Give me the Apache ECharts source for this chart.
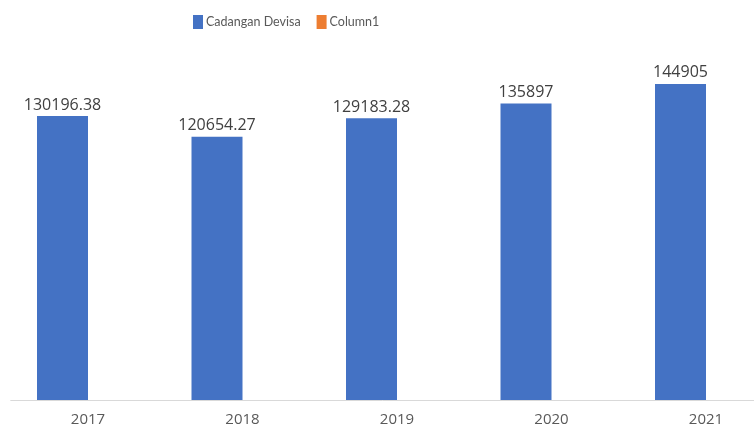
<!DOCTYPE html>
<html>
<head>
<meta charset="utf-8">
<script src="https://cdn.jsdelivr.net/npm/echarts@6/dist/echarts.min.js"></script>
<style>html,body{margin:0;padding:0;background:#fff}#c{width:754px;height:428px}</style>
</head>
<body>
<div id="c"></div>
<script>
const categories = ['2017', '2018', '2019', '2020', '2021'];
const cadanganDevisa = [130196.38, 120654.27, 129183.28, 135897, 144905];
const column1 = [null, null, null, null, null];
const labelTexts = ['130196.38', '120654.27', '129183.28', '135897', '144905'];

const chart = echarts.init(document.getElementById('c'));
const font = '"Open Sans", "Noto Sans", sans-serif';
chart.setOption({
  animation: false,
  textStyle: { fontFamily: font },
  legend: {
    top: 10,
    left: 188,
    itemWidth: 10,
    itemHeight: 14,
    itemGap: 16,
    textStyle: { fontSize: 12.5, color: '#595959', fontFamily: 'Lato, sans-serif', padding: [0, 0, 0, -2] },
    data: [
      { name: 'Cadangan Devisa', icon: 'rect' },
      { name: 'Column1', icon: 'rect' }
    ]
  },
  grid: { left: 10.75, width: 772.5, top: 51, height: 349, containLabel: false, outerBoundsMode: 'none' },
  xAxis: {
    type: 'category',
    data: categories,
    axisLine: { lineStyle: { color: '#d9d9d9', width: 1 } },
    axisTick: { show: false },
    axisLabel: { color: '#595959', fontSize: 15, margin: 12, fontFamily: font }
  },
  yAxis: {
    type: 'value',
    min: 0,
    max: 160000,
    show: false,
    splitLine: { show: false }
  },
  series: [
    {
      name: 'Cadangan Devisa',
      type: 'bar',
      data: cadanganDevisa,
      barWidth: 51,
      barGap: '0%',
      itemStyle: { color: '#4472C4' },
      label: {
        show: true,
        position: 'top',
        distance: 3,
        color: '#404040',
        fontSize: 16,
        fontFamily: font,
        formatter: p => labelTexts[p.dataIndex]
      }
    },
    {
      name: 'Column1',
      type: 'bar',
      data: column1,
      barWidth: 51,
      barGap: '0%',
      itemStyle: { color: '#ED7D31' }
    }
  ]
});
</script>
</body>
</html>
